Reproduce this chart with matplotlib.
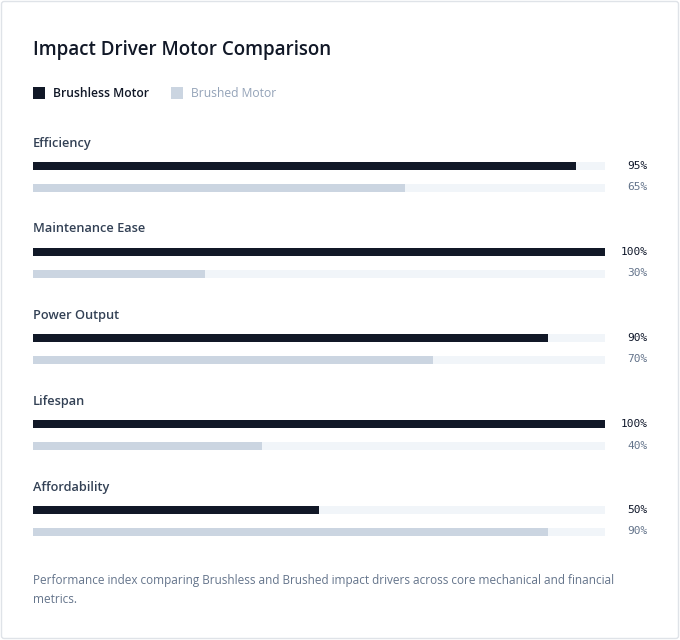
import matplotlib.pyplot as plt
from matplotlib.patches import Rectangle, FancyBboxPatch

# Data
categories = ["Efficiency", "Maintenance Ease", "Power Output", "Lifespan", "Affordability"]
brushless = [95, 100, 90, 100, 50]
brushed = [65, 30, 70, 40, 90]
series_names = ["Brushless Motor", "Brushed Motor"]

DARK = "#111827"
LIGHT = "#cbd5e1"
TRACK = "#f1f5f9"
W, H = 680, 640

plt.rcParams["font.family"] = ["Open Sans", "DejaVu Sans"]

fig = plt.figure(figsize=(W / 100, H / 100), dpi=100)
fig.patch.set_facecolor("white")

# card border
fig.patches.append(FancyBboxPatch((1.5 / W, 1.5 / H), (W - 3) / W, (H - 3) / H,
                                  boxstyle="round,pad=0,rounding_size=0.004",
                                  transform=fig.transFigure, facecolor="none",
                                  edgecolor="#dfe3e8", linewidth=1))


def px(x, y):
    return x / W, 1 - y / H


# title and legend
fig.text(*px(33, 49.5), "Impact Driver Motor Comparison", fontsize=13.5,
         fontweight="semibold", color=DARK, va="center", ha="left")
fig.patches.append(Rectangle(px(33, 99), 12 / W, 12 / H, transform=fig.transFigure,
                             facecolor=DARK, edgecolor="none"))
fig.text(*px(53, 93.5), series_names[0], fontsize=8.7, fontweight="semibold",
         color=DARK, va="center")
fig.patches.append(Rectangle(px(171, 99), 12 / W, 12 / H, transform=fig.transFigure,
                             facecolor=LIGHT, edgecolor="none"))
fig.text(*px(191, 93.5), series_names[1], fontsize=8.7, color="#94a3b8", va="center")

# bars axes: pixel layout translated to data units (86 px per group)
step = 86.0
top_px, bottom_px = 125, 545
ax = fig.add_axes([33 / W, 1 - bottom_px / H, 572 / W, (bottom_px - top_px) / H])
ax.set_xlim(0, 100)
ax.set_ylim((bottom_px - 166) / step, (top_px - 166) / step)
ax.axis("off")

bh = 8 / step
off = 21.5 / step
label_off = 23 / step
ypos = list(range(len(categories)))
ax.barh(ypos, [100] * len(ypos), height=bh, color=TRACK)
ax.barh([y + off for y in ypos], [100] * len(ypos), height=bh, color=TRACK)
ax.barh(ypos, brushless, height=bh, color=DARK)
ax.barh([y + off for y in ypos], brushed, height=bh, color=LIGHT)

for y, cat, a, b in zip(ypos, categories, brushless, brushed):
    ax.text(0, y - label_off, cat, fontsize=9.2, fontweight="semibold", color="#334155",
            va="center", ha="left", clip_on=False)
    ax.text(107.5, y, f"{a}%", fontsize=8, family="DejaVu Sans Mono",
            color="#0f172a", va="center", ha="right", clip_on=False)
    ax.text(107.5, y + off, f"{b}%", fontsize=8, family="DejaVu Sans Mono",
            color="#64748b", va="center", ha="right", clip_on=False)

# footer
fig.text(*px(33, 590), "Performance index comparing Brushless and Brushed impact drivers across core mechanical and financial\nmetrics.",
         fontsize=8.5, color="#64748b", va="center", ha="left", linespacing=1.55)

fig.savefig("out.png", dpi=100, facecolor="white")
